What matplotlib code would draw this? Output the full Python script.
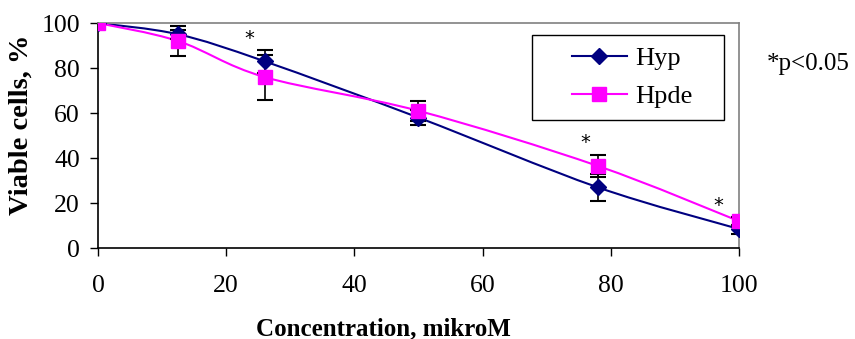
import numpy as np
import matplotlib
matplotlib.use("Agg")
from matplotlib import pyplot as plt
from matplotlib.path import Path
from matplotlib.patches import PathPatch, Rectangle
from matplotlib.lines import Line2D

conc = [0, 12.5, 26, 50, 78, 100]
hyp = [100, 95, 83, 58, 27, 8.5]
hyp_err = [0, 2, 5, 3.5, 6, 2]
hpde = [100, 92, 76, 61, 36.5, 12]
hpde_err = [0, 6.5, 10, 4.5, 5, 2]
stars_x = [23.6, 76, 96.7]
stars_y = [93, 47, 19]

plt.rcParams['font.family'] = ['Liberation Serif', 'DejaVu Serif']


def smooth_path(x, y):
    # excel-style smoothed line as cubic bezier segments
    pts = np.column_stack([x, y]).astype(float)
    n = len(pts)
    verts = [pts[0]]
    codes = [Path.MOVETO]
    for i in range(n - 1):
        p0 = pts[i - 1] if i > 0 else pts[i]
        p1 = pts[i]
        p2 = pts[i + 1]
        p3 = pts[i + 2] if i + 2 < n else pts[i + 1]
        verts += [p1 + (p2 - p0) / 6, p2 - (p3 - p1) / 6, p2]
        codes += [Path.CURVE4] * 3
    return Path(verts, codes)


fig = plt.figure(figsize=(8.55, 3.39), dpi=100)
ax = fig.add_axes([0.1146, 0.268, 0.7497, 0.664])

for y, err, col, mk, ms in [(hyp, hyp_err, '#000080', 'D', 8.5),
                            (hpde, hpde_err, '#FF00FF', 's', 10)]:
    ax.add_patch(PathPatch(smooth_path(conc, y), fill=False, edgecolor=col,
                           lw=1.5, zorder=2))
    ax.errorbar(conc, y, yerr=err, fmt='none', ecolor='black', elinewidth=1.2,
                capsize=5.5, capthick=1.5, zorder=3)
    ax.plot(conc, y, ls='none', marker=mk, color=col, ms=ms, zorder=4)

for sx, sy in zip(stars_x, stars_y):
    ax.text(sx, sy, '*', ha='center', va='center', fontsize=14, family='DejaVu Sans')

ax.set_xlim(0, 100)
ax.set_ylim(0, 100)
ax.set_xticks(range(0, 101, 20))
ax.set_yticks(range(0, 101, 20))
ax.tick_params(direction='out', length=6, width=1, labelsize=18.5)
ax.tick_params(axis='x', pad=13)
ax.tick_params(axis='y', pad=7)
ax.spines['top'].set_color('#808080')
ax.spines['right'].set_color('#808080')
for s in ax.spines.values():
    s.set_linewidth(1.2)
ax.set_xlabel('Concentration, mikroM', fontsize=18, fontweight='bold')
ax.set_ylabel('Viable cells, %', fontsize=20.5, fontweight='bold')
ax.xaxis.set_label_coords(0.446, -0.307)
ax.yaxis.set_label_coords(-0.101, 0.549)

# legend box drawn separately (wider side padding than the text rows)
ax.add_patch(Rectangle((0.677, 0.569), 0.3, 0.378, transform=ax.transAxes,
                       facecolor='white', edgecolor='black', lw=1, zorder=5))
handles = [Line2D([], [], color='#000080', marker='D', ms=8.5, lw=1.5),
           Line2D([], [], color='#FF00FF', marker='s', ms=10, lw=1.5)]
leg = ax.legend(handles, ['Hyp', 'Hpde'], loc='center',
                bbox_to_anchor=(0.833, 0.757), fontsize=19, frameon=False,
                borderpad=0, handlelength=2.1, handletextpad=0.3,
                labelspacing=0.55)
leg.set_zorder(6)

fig.text(0.897, 0.81, '*p<0.05', ha='left', va='center', fontsize=18)

fig.savefig('out.png', dpi=100)
